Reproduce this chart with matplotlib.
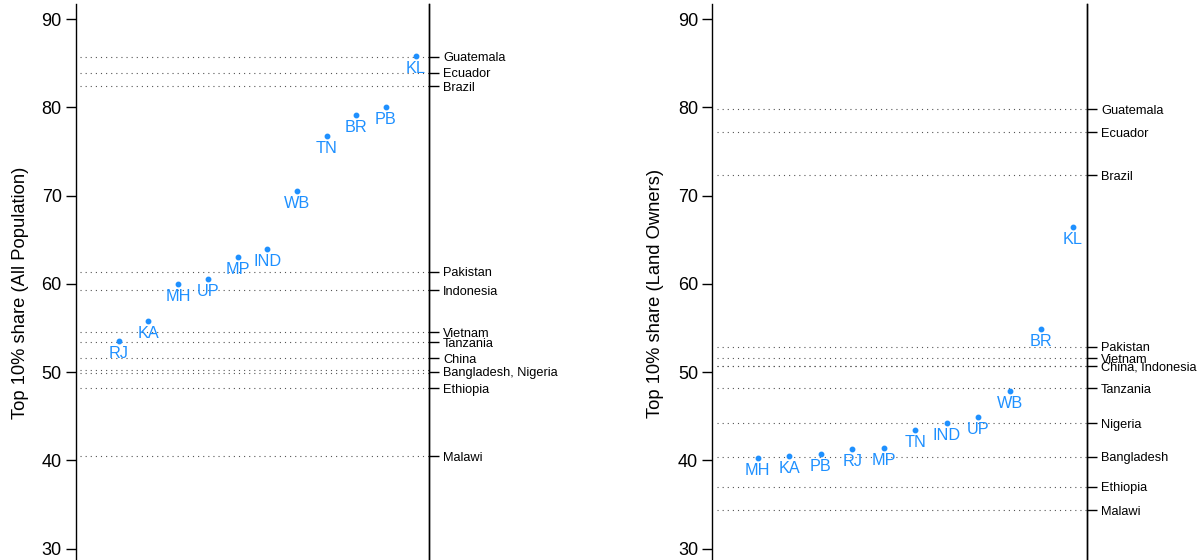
import matplotlib
matplotlib.use("Agg")
import matplotlib.pyplot as plt

plt.rcParams["font.family"] = ["Liberation Sans", "DejaVu Sans"]

# Indian states, ordered by their top-10% share
states_all = ["RJ", "KA", "MH", "UP", "MP", "IND", "WB", "TN", "BR", "PB", "KL"]
share_all = [53.5, 55.8, 60.0, 60.5, 63.0, 63.9, 70.5, 76.8, 79.1, 80.0, 85.8]

states_land = ["MH", "KA", "PB", "RJ", "MP", "TN", "IND", "UP", "WB", "BR", "KL"]
share_land = [40.3, 40.5, 40.7, 41.3, 41.4, 43.4, 44.3, 44.9, 47.9, 54.9, 66.5]

# Comparison countries (reference lines)
countries_all = ["Guatemala", "Ecuador", "Brazil", "Pakistan", "Indonesia", "Vietnam",
                 "Tanzania", "China", "Bangladesh", "Nigeria", "Ethiopia", "Malawi"]
country_share_all = [85.7, 83.9, 82.4, 61.4, 59.3, 54.5, 53.4, 51.6, 50.2, 49.95, 48.2, 40.5]
tick_labels_all = ["Guatemala", "Ecuador", "Brazil", "Pakistan", "Indonesia", "Vietnam",
                   "Tanzania", "China", "Bangladesh, Nigeria", "Ethiopia", "Malawi"]
tick_pos_all = [85.7, 83.9, 82.4, 61.4, 59.3, 54.5, 53.4, 51.6, 50.07, 48.2, 40.5]

countries_land = ["Guatemala", "Ecuador", "Brazil", "Pakistan", "Vietnam", "China",
                  "Indonesia", "Tanzania", "Nigeria", "Bangladesh", "Ethiopia", "Malawi"]
country_share_land = [79.8, 77.2, 72.3, 52.9, 51.6, 50.7, 50.7, 48.2, 44.2, 40.4, 37.0, 34.35]
tick_labels_land = ["Guatemala", "Ecuador", "Brazil", "Pakistan", "Vietnam",
                    "China, Indonesia", "Tanzania", "Nigeria", "Bangladesh", "Ethiopia", "Malawi"]
tick_pos_land = [79.8, 77.2, 72.3, 52.9, 51.6, 50.7, 48.2, 44.2, 40.4, 37.0, 34.35]

y_ticks = [30, 40, 50, 60, 70, 80, 90]

BLUE = "#1E90FF"
W, H = 1198, 560
fig = plt.figure(figsize=(W / 100, H / 100), dpi=100)

def panel(rect, states, shares, ref_vals, tpos, tlabels, ylabel, label_x):
    ax = fig.add_axes(rect)
    xs = list(range(1, len(states) + 1))
    for v in ref_vals:
        ax.axhline(v, xmin=0.012, xmax=1, color="#555555", lw=0.8,
                   linestyle=(0, (1, 3.6)), zorder=1)
    ax.plot(xs, shares, "o", color=BLUE, ms=3.2, zorder=3)
    for x, y, s in zip(xs, shares, states):
        ax.annotate(s, (x, y), xytext=(0, -5), textcoords="offset pixels",
                    ha="center", va="top", color=BLUE, fontsize=11.7, zorder=4)
    ax.set_xlim(-0.45, len(states) + 0.45)
    ax.set_ylim(28.73, 91.7)
    ax.set_xticks([])
    ax.set_yticks(y_ticks)
    ax.tick_params(axis="y", labelsize=13, length=7, width=1, direction="out", pad=3)
    for side in ("top", "bottom"):
        ax.spines[side].set_visible(False)
    for side in ("left", "right"):
        ax.spines[side].set_linewidth(1.0)
    ax.set_ylabel(ylabel, fontsize=13.2)
    ax.yaxis.set_label_coords(label_x, 0.48)

    ax2 = ax.twinx()
    ax2.set_ylim(ax.get_ylim())
    ax2.set_yticks(tpos)
    ax2.set_yticklabels(tlabels)
    ax2.tick_params(axis="y", labelsize=9.2, length=7, width=1, pad=3)
    for side in ("top", "bottom", "left"):
        ax2.spines[side].set_visible(False)
    ax2.spines["right"].set_linewidth(1.0)
    return ax

top = (H - 4) / H
panel([75.7 / W, 0, (429 - 75.7) / W, top], states_all, share_all, country_share_all,
      tick_pos_all, tick_labels_all, "Top 10% share (All Population)", -0.132)
panel([712 / W, 0, (1087 - 712) / W, top], states_land, share_land, country_share_land,
      tick_pos_land, tick_labels_land, "Top 10% share (Land Owners)", -0.127)

fig.savefig("out.png", dpi=100)
